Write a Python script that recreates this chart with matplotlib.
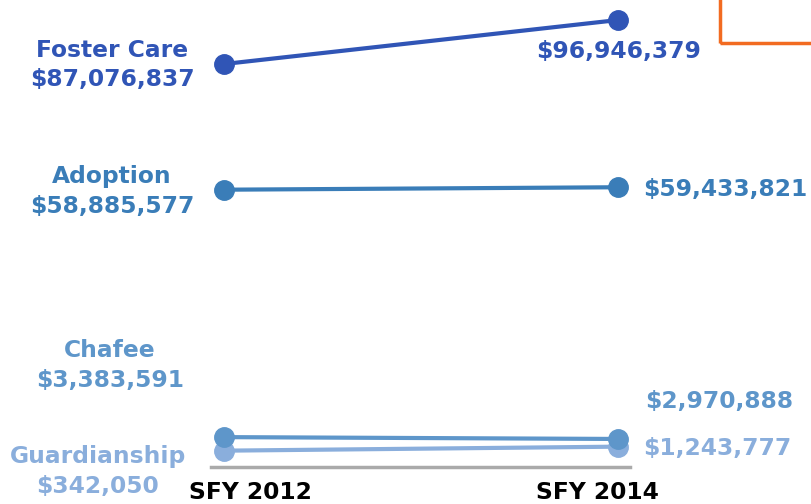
import matplotlib
matplotlib.use("Agg")
import matplotlib.pyplot as plt
from matplotlib.patches import Rectangle

years = ['SFY 2012', 'SFY 2014']
programs = ['Foster Care', 'Adoption', 'Chafee', 'Guardianship']
sfy2012 = [87076837, 58885577, 3383591, 342050]
sfy2014 = [96946379, 59433821, 2970888, 1243777]
colors = ['#3055b6', '#3a7db8', '#5e96ca', '#8aaedc']

# label offsets in pixels (left label, right label) and right alignment
left_off = [(-112, -1), (-112, -2), (-114, 72), (-126, -21)]
right_off = [(1, -31), (25, -2), (27, 37), (25, -2)]
right_ha = ['center', 'left', 'left', 'left']
fs = 16.8

fig = plt.figure(figsize=(8.12, 5.04), dpi=100)
ax = fig.add_axes([0, 0, 1, 1])
ax.set_xlim(-0.5685, 1.4924)
ax.set_ylim(-11.62e6, 101.44e6)
ax.axis('off')

x = [0, 1]
for i, name in enumerate(programs):
    y = [sfy2012[i], sfy2014[i]]
    ax.plot(x, y, color=colors[i], lw=3, marker='o', markersize=14,
            solid_capstyle='butt', zorder=3 - i * 0.1)
    ax.annotate('%s\n$%s' % (name, format(sfy2012[i], ',')), (0, sfy2012[i]),
                xytext=left_off[i], textcoords='offset pixels',
                ha='center', va='center', color=colors[i], fontsize=fs,
                fontweight='bold', linespacing=1.38)
    ax.annotate('$%s' % format(sfy2014[i], ','), (1, sfy2014[i]),
                xytext=right_off[i], textcoords='offset pixels',
                ha=right_ha[i], va='center', color=colors[i], fontsize=fs,
                fontweight='bold')

# baseline
ax.plot([-0.033, 1.03], [-3.36e6, -3.36e6], color='#aaaaaa', lw=2.5, zorder=1)
for xi, lab in zip(x, years):
    ax.annotate(lab, (xi, -3.36e6), xytext=(26 if xi == 0 else -21, -25),
                textcoords='offset pixels', ha='center', va='center',
                color='black', fontsize=fs, fontweight='bold')

# orange box peeking in at the top right
fig.patches.append(Rectangle((720 / 812, 1 - 43 / 504), 0.3, 0.2,
                             transform=fig.transFigure, fill=False,
                             edgecolor='#f26b21', lw=2.5))

fig.savefig('out.png', dpi=100)
